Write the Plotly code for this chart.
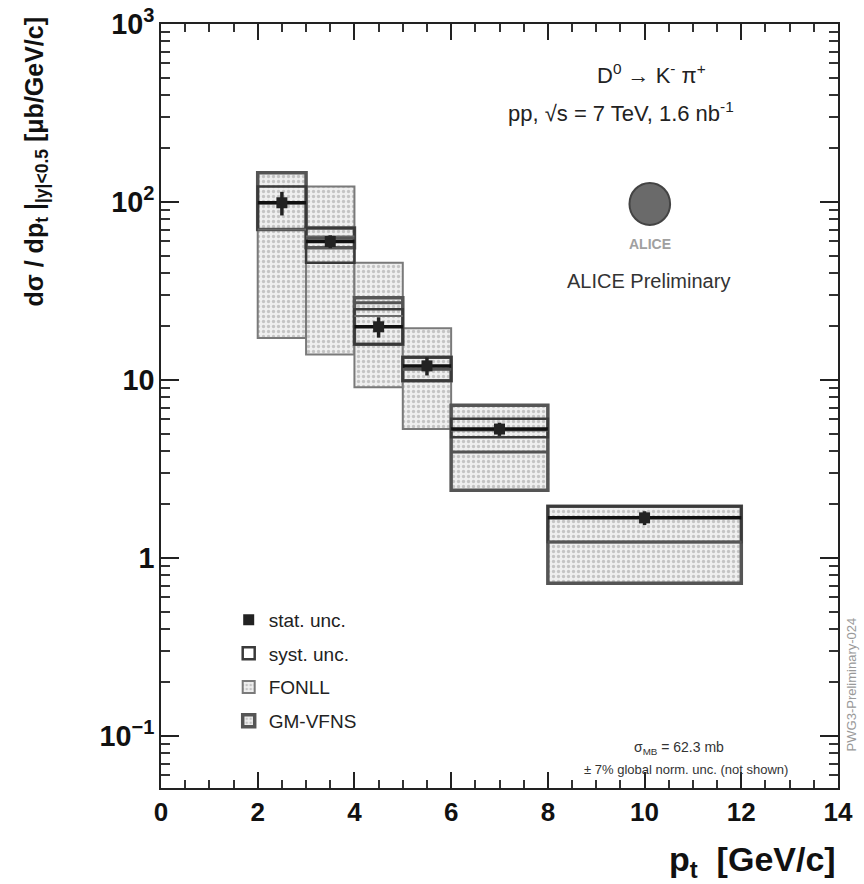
import plotly.graph_objects as go
import numpy as np

# ---- data ----
bin_lo = [2, 3, 4, 5, 6, 8]
bin_hi = [3, 4, 5, 6, 8, 12]
xsec = [99.0, 60.0, 19.9, 12.0, 5.3, 1.68]
stat = [15.0, 5.0, 2.6, 1.4, 0.45, 0.15]
syst_lo = [70.0, 45.6, 15.9, 9.9, 4.77, 1.23]
syst_hi = [122.0, 71.5, 25.0, 13.4, 6.05, 1.95]
fonll_lo = [17.2, 13.9, 9.1, 5.3, 2.4, 0.72]
fonll_c = [70.0, 64.0, 22.9, 11.5, 5.2, 1.23]
fonll_hi = [137.0, 122.0, 45.6, 19.5, 7.2, 1.95]
gm_lo = [70.0, 55.4, 15.9, 9.9, 2.4, 0.72]
gm_c = [99.0, 62.5, 27.2, 11.5, 3.94, 1.23]
gm_hi = [146.0, 71.5, 29.0, 13.4, 7.2, 1.95]

x_ticks = [0, 2, 4, 6, 8, 10, 12, 14]

FONT = "Liberation Sans, Arial, sans-serif"

centers = [(a + b) / 2 for a, b in zip(bin_lo, bin_hi)]
widths = [(b - a) for a, b in zip(bin_lo, bin_hi)]
halfw = [w / 2 for w in widths]


def hlines(vals):
    xs, ys = [], []
    for a, b, v in zip(bin_lo, bin_hi, vals):
        xs += [a, b, None]
        ys += [v, v, None]
    return xs, ys


fig = go.Figure()

pattern = dict(shape=".", fgcolor="#9a9a9a", bgcolor="#efefef", size=5, solidity=0.35)

# FONLL boxes
fig.add_trace(go.Bar(x=centers, y=[h - l for l, h in zip(fonll_lo, fonll_hi)], base=fonll_lo,
                     width=widths, name="FONLL", legendgroup="fonll", legendrank=3,
                     marker=dict(color="#efefef", pattern=pattern,
                                 line=dict(color="#7a7a7a", width=2))))
cx, cy = hlines(fonll_c)
fig.add_trace(go.Scatter(x=cx, y=cy, mode="lines", line=dict(color="#6a6a6a", width=2),
                         showlegend=False, legendgroup="fonll"))

# GM-VFNS boxes
fig.add_trace(go.Bar(x=centers, y=[h - l for l, h in zip(gm_lo, gm_hi)], base=gm_lo,
                     width=widths, name="GM-VFNS", legendgroup="gm", legendrank=4,
                     marker=dict(color="#efefef", pattern=pattern,
                                 line=dict(color="#555555", width=3.5))))
cx, cy = hlines(gm_c)
fig.add_trace(go.Scatter(x=cx, y=cy, mode="lines", line=dict(color="#555555", width=3),
                         showlegend=False, legendgroup="gm"))

# systematic boxes
fig.add_trace(go.Bar(x=centers, y=[h - l for l, h in zip(syst_lo, syst_hi)], base=syst_lo,
                     width=widths, name="syst. unc.", legendgroup="syst", legendrank=2,
                     marker=dict(color="rgba(0,0,0,0)", line=dict(color="#3a3a3a", width=2.5))))

# data points
fig.add_trace(go.Scatter(x=centers, y=xsec, mode="markers", name="stat. unc.",
                         marker=dict(symbol="square", size=11, color="#222222"),
                         error_y=dict(type="data", array=stat, color="#222222", thickness=3.5, width=0),
                         error_x=dict(type="data", array=halfw, color="#111111", thickness=3.5, width=0),
                         legendgroup="stat", legendrank=1))

axis_common = dict(showline=True, linecolor="#222222", linewidth=2, mirror="ticks",
                   ticks="inside", tickcolor="#222222", showgrid=False, zeroline=False,
                   automargin=False)

fig.update_xaxes(range=[0, 14], tickvals=x_ticks,
                 ticklen=16, tickwidth=1.5,
                 tickfont=dict(family=FONT, size=26, color="#111111", weight="bold"),
                 minor=dict(dtick=0.5, ticks="inside", ticklen=8, tickcolor="#333333"),
                 **axis_common)

yrange = [np.log10(0.051), 3]
fig.update_yaxes(type="log", range=yrange, tick0=0, dtick=1, exponentformat="power",
                 ticklen=18, tickwidth=1.5,
                 tickfont=dict(family=FONT, size=23, color="#111111", weight="bold"),
                 minor=dict(ticks="inside", ticklen=9, tickcolor="#333333", showgrid=False),
                 **axis_common)

fig.update_layout(barmode="overlay")

annotations = [
    dict(text="<b>p<sub>t</sub>  [GeV/c]</b>", xref="paper", yref="paper", x=1.0, y=-0.065,
         xanchor="right", yanchor="top", showarrow=False, font=dict(family=FONT, size=34, color="#111")),
    dict(text="<b>dσ / dp<sub>t</sub> |<sub>|y|<0.5</sub> [μb/GeV/c]</b>", xref="paper", yref="paper",
         x=-0.185, y=1.012, xanchor="center", yanchor="top", textangle=-90, showarrow=False,
         font=dict(family=FONT, size=25, color="#111")),
    dict(text="D<sup>0</sup> → K<sup>-</sup> π<sup>+</sup>", xref="paper", yref="paper", x=0.725, y=0.935,
         xanchor="center", yanchor="middle",
         showarrow=False, font=dict(family=FONT, size=22, color="#222")),
    dict(text="pp, √s = 7 TeV, 1.6 nb<sup>-1</sup>", xref="paper", yref="paper", x=0.68, y=0.885,
         xanchor="center", yanchor="middle",
         showarrow=False, font=dict(family=FONT, size=22, color="#222")),
    dict(text="<b>ALICE</b>", xref="paper", yref="paper", x=0.722, y=0.712,
         xanchor="center", yanchor="middle",
         showarrow=False, font=dict(family=FONT, size=14, color="#a0a0a0")),
    dict(text="ALICE Preliminary", xref="paper", yref="paper", x=0.72, y=0.664,
         xanchor="center", yanchor="middle",
         showarrow=False, font=dict(family=FONT, size=20, color="#333")),
    dict(text="σ<sub>MB</sub> = 62.3 mb", xref="paper", yref="paper", x=0.765, y=0.053,
         xanchor="center", yanchor="middle",
         showarrow=False, font=dict(family=FONT, size=14, color="#333")),
    dict(text="± 7% global norm. unc. (not shown)", xref="paper", yref="paper", x=0.775, y=0.024,
         xanchor="center", yanchor="middle",
         showarrow=False, font=dict(family=FONT, size=13, color="#333")),
    dict(text="PWG3-Preliminary-024", xref="paper", yref="paper", x=1.02, y=0.135,
         xanchor="center", yanchor="middle",
         textangle=-90, showarrow=False, font=dict(family=FONT, size=13, color="#999")),
]

shapes = [
    dict(type="circle", xref="paper", yref="paper", x0=0.692, x1=0.752, y0=0.737, y1=0.792,
         fillcolor="#6a6a6a", line=dict(color="#444", width=2)),
]

fig.update_layout(
    width=864, height=884,
    margin=dict(l=161, r=26, t=24, b=96),
    paper_bgcolor="white", plot_bgcolor="white",
    annotations=annotations, shapes=shapes,
    legend=dict(x=0.1, y=0.245, xanchor="left", yanchor="top", bgcolor="rgba(0,0,0,0)",
                font=dict(family=FONT, size=19, color="#222"), tracegroupgap=6,
                traceorder="grouped"),
)

fig.write_html("out.html")
